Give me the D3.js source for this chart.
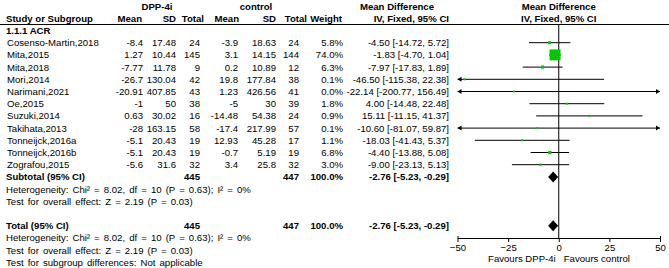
<!DOCTYPE html>
<html>
<head>
<meta charset="utf-8">
<script src="https://cdn.jsdelivr.net/npm/d3@7/dist/d3.min.js"></script>
<style>
  body { margin: 0; background: #fff; }
  text { font-family: "Liberation Sans", Arial, sans-serif; font-size: 9.6px; fill: #000; }
  .bold { font-weight: bold; }
  .note { word-spacing: 1.4px; }
</style>
</head>
<body>
<svg id="forest" width="669" height="268"></svg>
<script>
var studies = ["Cosenso-Martin,2018", "Mita,2015", "Mita,2018", "Mori,2014", "Narimani,2021", "Oe,2015",
    "Suzuki,2014", "Takihata,2013", "Tonneijck,2016a", "Tonneijck,2016b", "Zografou,2015"];
var dppMean = [-8.4, 1.27, -7.77, -26.7, -20.91, -1, 0.63, -28, -5.1, -5.1, -5.6];
var dppSD = [17.48, 10.44, 11.78, 130.04, 407.85, 50, 30.02, 163.15, 20.43, 20.43, 31.6];
var dppN = [24, 145, 9, 42, 43, 38, 16, 58, 19, 19, 32];
var ctlMean = [-3.9, 3.1, 0.2, 19.8, 1.23, -5, -14.48, -17.4, 12.93, -0.7, 3.4];
var ctlSD = [18.63, 14.15, 10.89, 177.84, 426.56, 30, 54.38, 217.99, 45.28, 5.19, 25.8];
var ctlN = [24, 144, 12, 38, 41, 39, 24, 57, 17, 19, 32];
var weight = [5.8, 74.0, 6.3, 0.1, 0.0, 1.8, 0.9, 0.1, 1.1, 6.8, 3.0];
var md = [-4.50, -1.83, -7.97, -46.50, -22.14, 4.00, 15.11, -10.60, -18.03, -4.40, -9.00];
var lo = [-14.72, -4.70, -17.83, -115.38, -200.77, -14.48, -11.15, -81.07, -41.43, -13.88, -23.13];
var hi = [5.72, 1.04, 1.89, 22.38, 156.49, 22.48, 41.37, 59.87, 5.37, 5.08, 5.13];

var pooled = { md: -2.76, lo: -5.23, hi: -0.29, dppN: 445, ctlN: 447, weight: 100.0 };
var heterogeneity = "Heterogeneity: Chi\u00b2 = 8.02, df = 10 (P = 0.63); I\u00b2 = 0%";
var overallTest = "Test for overall effect: Z = 2.19 (P = 0.03)";
var subgroupTest = "Test for subgroup differences: Not applicable";
var axisTicks = [-50, -25, 0, 25, 50];

var svg = d3.select("#forest");

// one row per line of the table
var row = d3.scaleLinear().domain([0, 19]).range([30.5, 262.3]);
var x = d3.scaleLinear().domain([-50, 50]).range([457.5, 660]);
var left = 6;

function fmtCI(m, l, h) {
    return m.toFixed(2) + " [" + l.toFixed(2) + ", " + h.toFixed(2) + "]";
}

function txt(str, xPos, y, anchor, cls) {
    return svg.append("text")
        .attr("x", xPos)
        .attr("y", y)
        .attr("text-anchor", anchor || "start")
        .attr("class", cls || null)
        .text(str);
}

// headers
txt("DPP-4i", 157, 10, "middle", "bold");
txt("control", 256, 10, "middle", "bold");
txt("Mean Difference", 397, 10, "middle", "bold");
txt("Mean Difference", x(0), 10, "middle", "bold");

txt("Study or Subgroup", left, 22, "start", "bold");
txt("Mean", 142, 22, "end", "bold");
txt("SD", 176, 22, "end", "bold");
txt("Total", 204, 22, "end", "bold");
txt("Mean", 239, 22, "end", "bold");
txt("SD", 276, 22, "end", "bold");
txt("Total", 307, 22, "end", "bold");
txt("Weight", 342, 22, "end", "bold");
txt("IV, Fixed, 95% CI", 449, 22, "end", "bold");
txt("IV, Fixed, 95% CI", x(0), 22, "middle", "bold");

svg.append("line")
    .attr("x1", 0).attr("x2", 669)
    .attr("y1", 24.5).attr("y2", 24.5)
    .style("stroke", "#000")
    .style("stroke-width", 1);

var off = 3.5;
txt("1.1.1 ACR", left, row(0) + off, "start", "bold");

studies.forEach(function(s, i) {
    var y = row(i + 1) + off;
    txt(s, left + 1, y);
    txt(String(dppMean[i]), 143, y, "end");
    txt(String(dppSD[i]), 176, y, "end");
    txt(String(dppN[i]), 200, y, "end");
    txt(String(ctlMean[i]), 238, y, "end");
    txt(String(ctlSD[i]), 276, y, "end");
    txt(String(ctlN[i]), 299, y, "end");
    txt(weight[i].toFixed(1) + "%", 343, y, "end");
    txt(fmtCI(md[i], lo[i], hi[i]), 449, y, "end");
});

function summaryRows(label, k) {
    var y = row(k) + off;
    txt(label, left, y, "start", "bold");
    txt(String(pooled.dppN), 200, y, "end", "bold");
    txt(String(pooled.ctlN), 299, y, "end", "bold");
    txt(pooled.weight.toFixed(1) + "%", 343, y, "end", "bold");
    txt(fmtCI(pooled.md, pooled.lo, pooled.hi), 449, y, "end", "bold");
    txt(heterogeneity, left, row(k + 1) + off, "start", "note");
    txt(overallTest, left, row(k + 2) + off, "start", "note");
}
summaryRows("Subtotal (95% CI)", 12);
summaryRows("Total (95% CI)", 16);
txt(subgroupTest, left, row(19) + off, "start", "note");

// plot
var axisY = 238;
svg.append("line")
    .attr("x1", x(0)).attr("x2", x(0))
    .attr("y1", 24.5).attr("y2", axisY)
    .style("stroke", "#000")
    .style("stroke-width", 1);

var plot = svg.append("g");

studies.forEach(function(s, i) {
    var y = row(i + 1);
    var l = Math.max(lo[i], -50), h = Math.min(hi[i], 50);
    plot.append("line")
        .attr("x1", x(l)).attr("x2", x(h))
        .attr("y1", y).attr("y2", y)
        .style("stroke", "#000")
        .style("stroke-width", 1);
    if (lo[i] < -50) {
        plot.append("path")
            .attr("d", "M" + x(-50) + "," + y + "l4,-2.5l0,5z")
            .style("fill", "#000");
    }
    if (hi[i] > 50) {
        plot.append("path")
            .attr("d", "M" + x(50) + "," + y + "l-4,-2.5l0,5z")
            .style("fill", "#000");
    }
    var sz = Math.max(2, 11 * Math.sqrt(weight[i] / 74));
    plot.append("rect")
        .attr("x", x(md[i]) - sz / 2)
        .attr("y", y - sz / 2)
        .attr("width", sz)
        .attr("height", sz)
        .style("fill", "#00c800");
});

[12, 16].forEach(function(k) {
    var y = row(k);
    plot.append("path")
        .attr("d", "M" + x(pooled.lo) + "," + y +
                   "L" + x(pooled.md) + "," + (y - 5.5) +
                   "L" + x(pooled.hi) + "," + y +
                   "L" + x(pooled.md) + "," + (y + 5.5) + "Z")
        .style("fill", "#000");
});

var xAxis = d3.axisBottom(x)
    .tickValues(axisTicks)
    .tickSizeOuter(-2)
    .tickSizeInner(4)
    .tickPadding(2);

svg.append("g")
    .attr("transform", "translate(0," + axisY + ")")
    .call(xAxis)
    .call(function(g) {
        g.selectAll("text").style("font-size", "9.6px").style("font-family", "Liberation Sans, Arial, sans-serif");
        g.select(".domain").style("stroke", "#000");
    });

txt("Favours DPP-4i", x(0) - 3, 261.5, "end");
txt("Favours control", x(0) + 5, 261.5, "start");
</script>
</body>
</html>
